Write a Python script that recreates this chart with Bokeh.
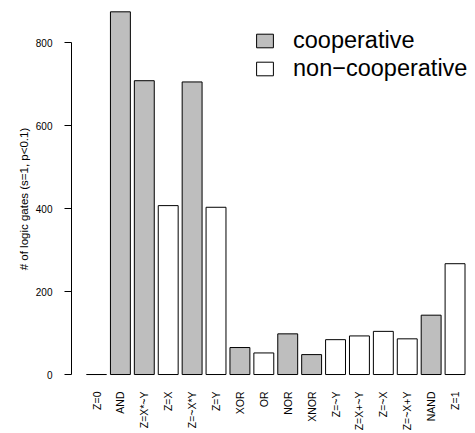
from math import pi
from bokeh.plotting import figure
from bokeh.models import ColumnDataSource, FixedTicker, Range1d, Legend, LegendItem
from bokeh.embed import file_html
from bokeh.resources import INLINE

# ---- data ----
gates = ["Z=0", "AND", "Z=X*~Y", "Z=X", "Z=~X*Y", "Z=Y", "XOR", "OR", "NOR",
         "XNOR", "Z=~Y", "Z=X+~Y", "Z=~X", "Z=~X+Y", "NAND", "Z=1"]
counts = [0, 874, 708, 407, 705, 403, 65, 52, 98, 48, 84, 93, 104, 86, 143, 267]
cooperative = [False, True, True, False, True, False, True, False, True, True,
               False, False, False, False, True, False]
y_ticks = [0, 200, 400, 600, 800]
y_label = "# of logic gates (s=1, p<0.1)"
legend_labels = ["cooperative", "non\u2212cooperative"]

FONT = "Liberation Sans"
pos = list(range(len(gates)))

coop = ColumnDataSource(dict(
    x=[p for p, c in zip(pos, cooperative) if c],
    top=[v for v, c in zip(counts, cooperative) if c]))
noncoop = ColumnDataSource(dict(
    x=[p for p, c in zip(pos, cooperative) if not c],
    top=[v for v, c in zip(counts, cooperative) if not c]))

p = figure(frame_width=401, frame_height=381, output_backend="svg",
           toolbar_location=None,
           x_range=Range1d(-1.046, 15.73), y_range=Range1d(-36.1, 882),
           min_border_left=71, min_border_right=2, min_border_top=8,
           min_border_bottom=43)
p.outline_line_color = None
p.grid.visible = False
p.background_fill_color = "white"
p.border_fill_color = "white"

r1 = p.vbar(x="x", top="top", bottom=0, width=0.833, source=coop,
            fill_color="#bebebe", line_color="#000000", line_width=1)
r2 = p.vbar(x="x", top="top", bottom=0, width=0.833, source=noncoop,
            fill_color="#ffffff", line_color="#000000", line_width=1)

# y axis
ya = p.yaxis[0]
ya.ticker = FixedTicker(ticks=y_ticks)
ya.bounds = (0, 800)
ya.axis_line_color = "#000000"
ya.major_tick_line_color = "#000000"
ya.major_tick_out = 7
ya.major_tick_in = 0
ya.minor_tick_line_color = None
ya.major_label_standoff = 12
ya.major_label_text_font = FONT
ya.major_label_text_font_size = "10px"
ya.major_label_text_color = "#000000"
ya.major_label_orientation = "horizontal"
ya.axis_label = y_label
ya.axis_label_text_font = FONT
ya.axis_label_text_font_size = "11.5px"
ya.axis_label_text_font_style = "normal"
ya.axis_label_text_color = "#000000"
ya.axis_label_standoff = 3

# x axis
xa = p.xaxis[0]
xa.ticker = FixedTicker(ticks=pos)
xa.major_label_overrides = {i: g for i, g in zip(pos, gates)}
xa.major_label_orientation = pi / 2
xa.axis_line_color = None
xa.major_tick_line_color = None
xa.minor_tick_line_color = None
xa.major_tick_out = 0
xa.major_tick_in = 0
xa.major_label_standoff = 2
xa.major_label_text_font = FONT
xa.major_label_text_font_size = "10.5px"
xa.major_label_text_color = "#000000"

legend = Legend(items=[LegendItem(label=legend_labels[0], renderers=[r1]),
                       LegendItem(label=legend_labels[1], renderers=[r2])],
                location=(183, 307), padding=0, margin=0, spacing=1,
                glyph_width=21, glyph_height=17, label_height=17,
                label_standoff=18, label_text_font=FONT,
                label_text_font_size="23.5px", label_text_color="#000000",
                border_line_color=None, background_fill_alpha=0)
p.add_layout(legend, "center")

open("out.html", "w").write(file_html(p, INLINE))
